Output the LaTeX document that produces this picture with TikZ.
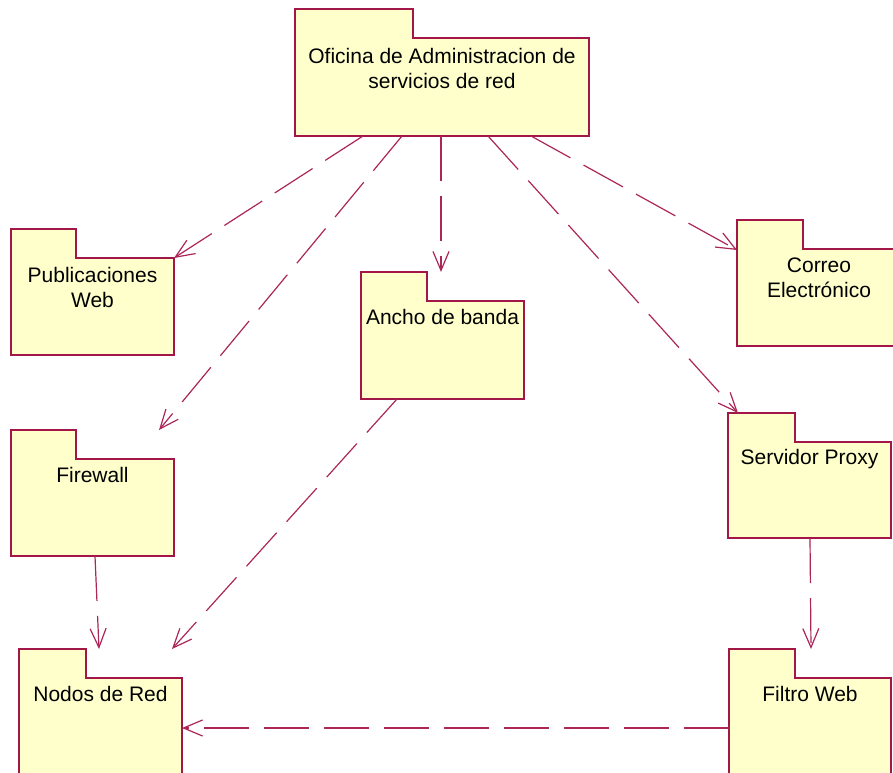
\documentclass[tikz,border=0pt]{standalone}
\usepackage{fontspec}
\setmainfont{Liberation Sans}
\usetikzlibrary{arrows.meta}

\definecolor{pkgborder}{RGB}{162,22,72}
\definecolor{pkgfill}{RGB}{255,255,204}
\definecolor{deplink}{RGB}{172,38,88}

\tikzset{
  pkgarea/.style={inner sep=0pt, outer sep=0pt, draw=none, rectangle},
  pkgshape/.style={draw=pkgborder, fill=pkgfill, line width=1.4pt, line join=miter},
  pkgtext/.style={inner sep=0pt, outer sep=0pt, align=center,
    font=\fontsize{21}{25}\selectfont, text=black},
  dependency/.style={draw=deplink, line width=1.2pt,
    dash pattern=on 45pt off 15pt,
    -{Straight Barb[length=19pt,width=16pt]}},
}

% \umlpackage{name}{x}{tab top y}{width}{total height}{tab width}{baseline of last line below top}{label}
\newcommand{\umlpackage}[8]{%
  \node[pkgarea, minimum width=#4pt, minimum height=#5pt, anchor=north west]
    (#1) at (#2,#3) {};
  \path[pkgshape] (#1.north west) -- ([xshift=#6pt]#1.north west)
    -- ([xshift=#6pt,yshift=-29pt]#1.north west)
    -- ([yshift=-29pt]#1.north east) -- (#1.south east)
    -- (#1.south west) -- cycle;
  \node[pkgtext, anchor=base] (#1-label) at ([yshift=-#7pt]#1.north) {#8};
}

\begin{document}
\begin{tikzpicture}[x=1pt, y=-1pt]
  \useasboundingbox (0,0) rectangle (893,772);
  \clip (0,0) rectangle (893,772);
  \fill[white] (0,0) rectangle (893,772);

  % packages
  \umlpackage{ofi}{295}{9}{294}{127}{118}{79}{Oficina de Administracion de\\servicios de red}
  \umlpackage{pub}{11}{229}{163}{126}{65}{78}{Publicaciones\\Web}
  \umlpackage{cor}{737}{220}{164}{126}{66}{77}{Correo\\Electrónico}
  \umlpackage{anc}{361}{272}{163}{127}{66}{52}{Ancho de banda}
  \umlpackage{fw}{11}{430}{163}{126}{65}{52}{Firewall}
  \umlpackage{srv}{728}{413}{163}{125}{67}{51}{Servidor Proxy}
  \umlpackage{nod}{19}{649}{163}{140}{67}{52}{Nodos de Red}
  \umlpackage{fil}{729}{649}{162}{140}{66}{52}{Filtro Web}

  % dependencies
  \draw[dependency] ([xshift=68pt]ofi.south west) -- ([yshift=-29pt]pub.north east);
  \draw[dependency] ([xshift=107pt]ofi.south west) -- ([xshift=-15pt]fw.north east);
  \draw[dependency] ([xshift=146pt]ofi.south west) -- ([xshift=80pt]anc.north west);
  \draw[dependency] ([xshift=193pt]ofi.south west) -- ([xshift=10pt]srv.north west);
  \draw[dependency] ([xshift=236pt]ofi.south west) -- ([yshift=-30pt]cor.north west);
  \draw[dependency] ([xshift=36pt]anc.south west) -- ([xshift=153pt]nod.north west);
  \draw[dependency] ([xshift=84pt]fw.south west) -- ([xshift=80pt]nod.north west);
  \draw[dependency] ([xshift=82pt]srv.south west) -- ([xshift=82pt]fil.north west);
  \draw[dependency] ([yshift=-79pt]fil.north west) -- ([yshift=-79pt]nod.north east);
\end{tikzpicture}
\end{document}
